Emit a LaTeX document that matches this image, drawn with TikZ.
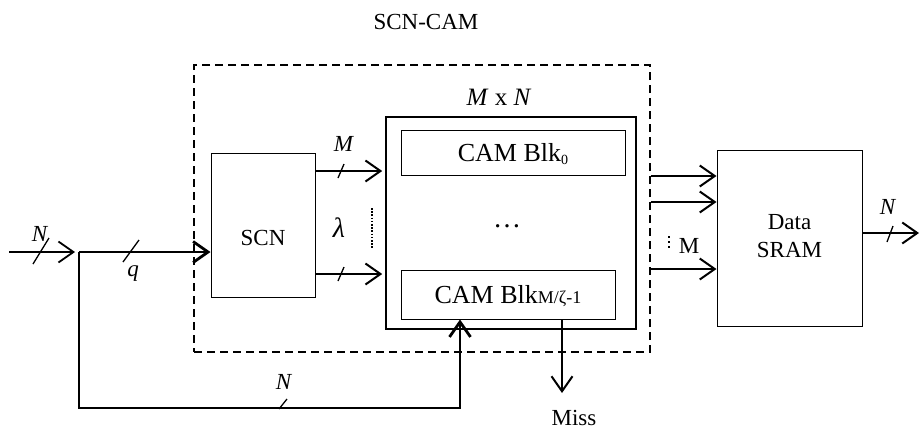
\documentclass[tikz,border=0pt]{standalone}
\usepackage{fontspec}
\setmainfont{Liberation Serif}
\usetikzlibrary{arrows.meta}
\newcommand\mytick[4]{\draw[line width=1.3pt] (#1-#3,#2+#4) -- (#1+#3,#2-#4);}
\begin{document}
\begin{tikzpicture}[x=1pt,y=-1pt,
  every node/.style={font=\fontsize{23}{27}\selectfont, inner sep=0pt},
  box/.style={draw, line width=1pt},
  arr/.style={-{Straight Barb[length=15pt,width=21pt]}},
  thickln/.style={line width=2.8pt},
  midln/.style={line width=2pt}]
\useasboundingbox (0,0) rectangle (920,432);
% boxes
\node[draw, dashed, line width=1.4pt, dash pattern=on 8pt off 5pt, minimum width=456pt, minimum height=287pt] (dash) at (422,208.5) {};
\node[box, minimum width=104pt, minimum height=144pt] (scn) at (263,225) {};
\node[box, line width=1.6pt, minimum width=250pt, minimum height=212pt] (mxn) at (511,223) {};
\node[box, minimum width=224pt, minimum height=45pt] (blk0) at (513,152.5) {};
\node[box, minimum width=214pt, minimum height=49pt] (blk1) at (508,294.5) {};
\node[box, minimum width=145pt, minimum height=176pt] (sram) at (789.5,238) {};
% texts
\node (title) at (426,22) {SCN-CAM};
\node (scnt) at (263,238) {SCN};
\node (mxnt) at (499,97) {\fontsize{25}{27}\selectfont\textit{M} x \textit{N}};
\node (blk0t) at (513,154) {\fontsize{26}{28}\selectfont CAM Blk\raisebox{-0.1em}{\fontsize{14}{14}\selectfont 0}};
\node (blk1t) at (508,296) {\fontsize{26}{28}\selectfont CAM Blk{\fontsize{18}{18}\selectfont M/ζ-1}};
\node (dots) at (507,226) {\fontsize{28}{30}\selectfont …};
\node (datat) at (789.5,222) {Data};
\node (sramt) at (789.5,250) {SRAM};
% input
\coordinate (in) at (9,252);
\coordinate (inend) at (75,252);
\coordinate (j) at (79,252);
\coordinate (fb) at (460,408);
\draw[arr, line width=1.8pt] (in) -- (inend);
\draw[arr, thickln] (j) -- (j -| scn.west);
\draw[arr, thickln] (j) |- (fb) -- (fb |- blk1.south);
\node (nin) at (40,234) {\textit{N}};
\node (q) at (133,274) {\textit{q}};
\node (nbot) at (284,382) {\textit{N}};
\mytick{41}{251}{8}{13}
\mytick{131}{251}{8}{11}
\mytick{283}{404}{4}{5}
% SCN to CAM
\coordinate (s1) at (0,171);
\coordinate (s2) at (0,274);
\draw[arr, midln, shorten >=3pt] (scn.east |- s1) -- (mxn.west |- s1);
\draw[arr, midln, shorten >=3pt] (scn.east |- s2) -- (mxn.west |- s2);
\mytick{341}{171}{3}{7}
\mytick{341}{274}{3}{7}
\node (mlab) at (344,144) {\textit{M}};
\node (lam) at (339,228) {\fontsize{28}{30}\selectfont\textit{λ}};
\coordinate (dt) at (372,208);
\coordinate (db) at (372,248);
\draw[line width=2pt, dash pattern=on 1.6pt off 1.6pt] (dt) -- (db);
% Miss
\coordinate (mx) at (562,393);
\draw[arr, midln] (blk1.south -| mx) -- (mx);
\node (miss) at (574,418) {Miss};
% to SRAM
\coordinate (r1) at (0,176);
\coordinate (r2) at (0,202);
\coordinate (r3) at (0,269);
\draw[arr, midln] (dash.east |- r1) -- (sram.west |- r1);
\draw[arr, midln] (dash.east |- r2) -- (sram.west |- r2);
\draw[arr, midln] (dash.east |- r3) -- (sram.west |- r3);
\coordinate (vd1) at (669,236);
\coordinate (vd2) at (669,250);
\draw[line width=2.4pt, dash pattern=on 2pt off 3pt] (vd1) -- (vd2);
\node (mr) at (689,246) {M};
% output
\coordinate (out) at (919,233);
\draw[arr, midln] (sram.east |- out) -- (out);
\mytick{890}{234}{3}{8}
\node (nout) at (888,207) {\textit{N}};
\end{tikzpicture}
\end{document}
